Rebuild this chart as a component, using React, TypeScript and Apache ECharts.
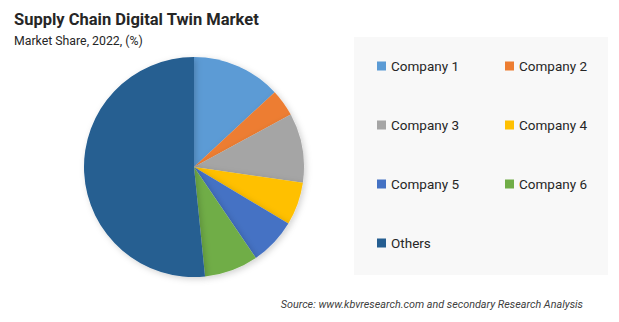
import React, { useEffect, useRef } from "react";
import * as echarts from "echarts";

const categories = ["Company 1", "Company 2", "Company 3", "Company 4", "Company 5", "Company 6", "Others"];
const shares = [13.1, 4.0, 10.2, 6.3, 6.9, 7.9, 51.6];
const colors = ["#5b9bd5", "#ed7d31", "#a5a5a5", "#ffc000", "#4472c4", "#70ad47", "#255e91"];
const leftColumn = ["Company 1", "Company 3", "Company 5", "Others"];
const rightColumn = ["Company 2", "Company 4", "Company 6"];

const titleText = "Supply Chain Digital Twin Market";
const subtitleText = "Market Share, 2022, (%)";
const sourceText = "Source: www.kbvresearch.com and secondary Research Analysis";

export default function App() {
  const ref = useRef<HTMLDivElement>(null);
  useEffect(() => {
    if (!ref.current) return;
    const chart = echarts.init(ref.current, null, { renderer: "svg" });
    const legendCommon = {
      orient: "vertical",
      icon: "rect",
      padding: 0,
      itemWidth: 9,
      itemHeight: 9,
      itemGap: 43,
      textStyle: { fontFamily: "Roboto", fontSize: 13.5, color: "#262626", lineHeight: 16 },
      selectedMode: false,
    };
    chart.setOption({
      animation: false,
      backgroundColor: "#ffffff",
      color: colors,
      title: [
        {
          text: titleText,
          subtext: subtitleText,
          left: 9,
          top: 6,
          itemGap: 7,
          textStyle: { fontFamily: "Roboto", fontSize: 16.5, fontWeight: "bold", color: "#262626" },
          subtextStyle: { fontFamily: "Roboto", fontSize: 12.3, color: "#262626" },
        },
        {
          text: sourceText,
          right: 31,
          top: 294,
          textStyle: { fontFamily: "Roboto", fontSize: 10.8, fontStyle: "italic", fontWeight: "normal", color: "#404040" },
        },
      ],
      graphic: [
        {
          type: "rect",
          shape: { x: 354, y: 37, width: 254, height: 238 },
          style: { fill: "#f8f8f8" },
          z: -1,
        },
      ],
      legend: [
        { ...legendCommon, left: 377, top: 58, data: leftColumn },
        { ...legendCommon, left: 505, top: 58, data: rightColumn },
      ],
      series: [
        {
          type: "pie",
          center: [194, 167],
          radius: 110,
          startAngle: 90,
          clockwise: true,
          label: { show: false },
          labelLine: { show: false },
          emphasis: { disabled: true },
          itemStyle: {
            shadowBlur: 6,
            shadowColor: "rgba(0,0,0,0.18)",
            shadowOffsetX: 2,
            shadowOffsetY: 2,
          },
          data: categories.map((name, i) => ({ name, value: shares[i] })),
        },
      ],
    });
    return () => chart.dispose();
  }, []);
  return <div ref={ref} style={{ position: "fixed", left: 0, top: 0, width: 619, height: 322 }} />;
}
